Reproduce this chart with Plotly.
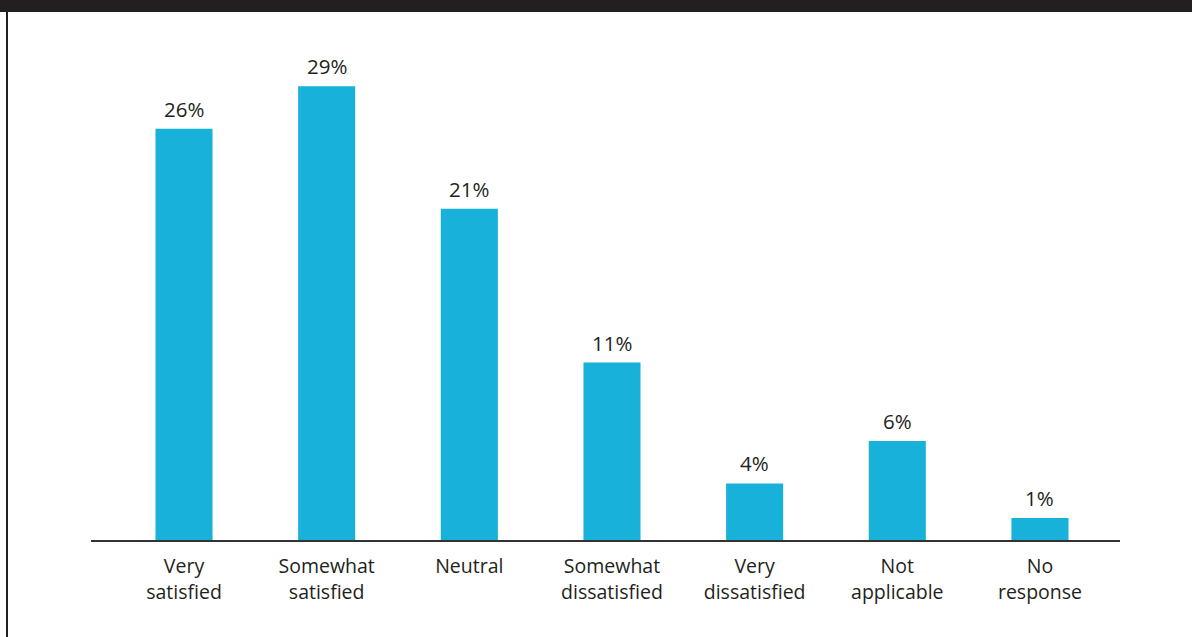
import plotly.graph_objects as go

categories = ["Very<br>satisfied", "Somewhat<br>satisfied", "Neutral", "Somewhat<br>dissatisfied",
              "Very<br>dissatisfied", "Not<br>applicable", "No<br>response"]
values = [26.2, 28.9, 21.1, 11.3, 3.6, 6.3, 1.4]
labels = ["26%", "29%", "21%", "11%", "4%", "6%", "1%"]

W, H = 1192, 637
ml, mr, mt, mb = 91, 72, 22, 97
pw, ph = W - ml - mr, H - mt - mb

fig = go.Figure()
fig.add_trace(go.Bar(x=list(range(len(categories))), y=values, width=0.40,
                     marker=dict(color="#18b1da", line=dict(width=0)),
                     hoverinfo="skip"))

for i, (v, t) in enumerate(zip(values, labels)):
    fig.add_annotation(x=i, y=v, text=t, showarrow=False, yanchor="bottom",
                       yshift=4, font=dict(size=20.5, color="#231f20"))

# dark top band and left border
fig.add_shape(type="rect", xref="paper", yref="paper", x0=-ml / pw, x1=1 + mr / pw,
              y0=1 + (mt - 12) / ph, y1=1 + mt / ph, fillcolor="#231f20", line=dict(width=0), layer="above")
fig.add_shape(type="line", xref="paper", yref="paper", x0=-(ml - 7) / pw, x1=-(ml - 7) / pw,
              y0=-mb / ph, y1=1 + mt / ph, line=dict(color="#231f20", width=2))

fig.update_layout(
    width=W, height=H,
    margin=dict(l=ml, r=mr, t=mt, b=mb),
    paper_bgcolor="white", plot_bgcolor="white",
    font=dict(family="Open Sans", size=19.5, color="#231f20"),
    showlegend=False,
    xaxis=dict(range=[-0.652, 6.561], tickmode="array", tickvals=list(range(len(categories))),
               ticktext=categories, showline=True, linecolor="#333333", linewidth=2,
               showgrid=False, zeroline=False, ticks="outside", ticklen=8, tickcolor="white",
               fixedrange=True),
    yaxis=dict(range=[0, 33], visible=False, showgrid=False, zeroline=False, fixedrange=True),
)

fig.write_html("out.html", config={"displayModeBar": False},
               post_script="document.body.style.margin='0';document.body.style.overflow='hidden';")
